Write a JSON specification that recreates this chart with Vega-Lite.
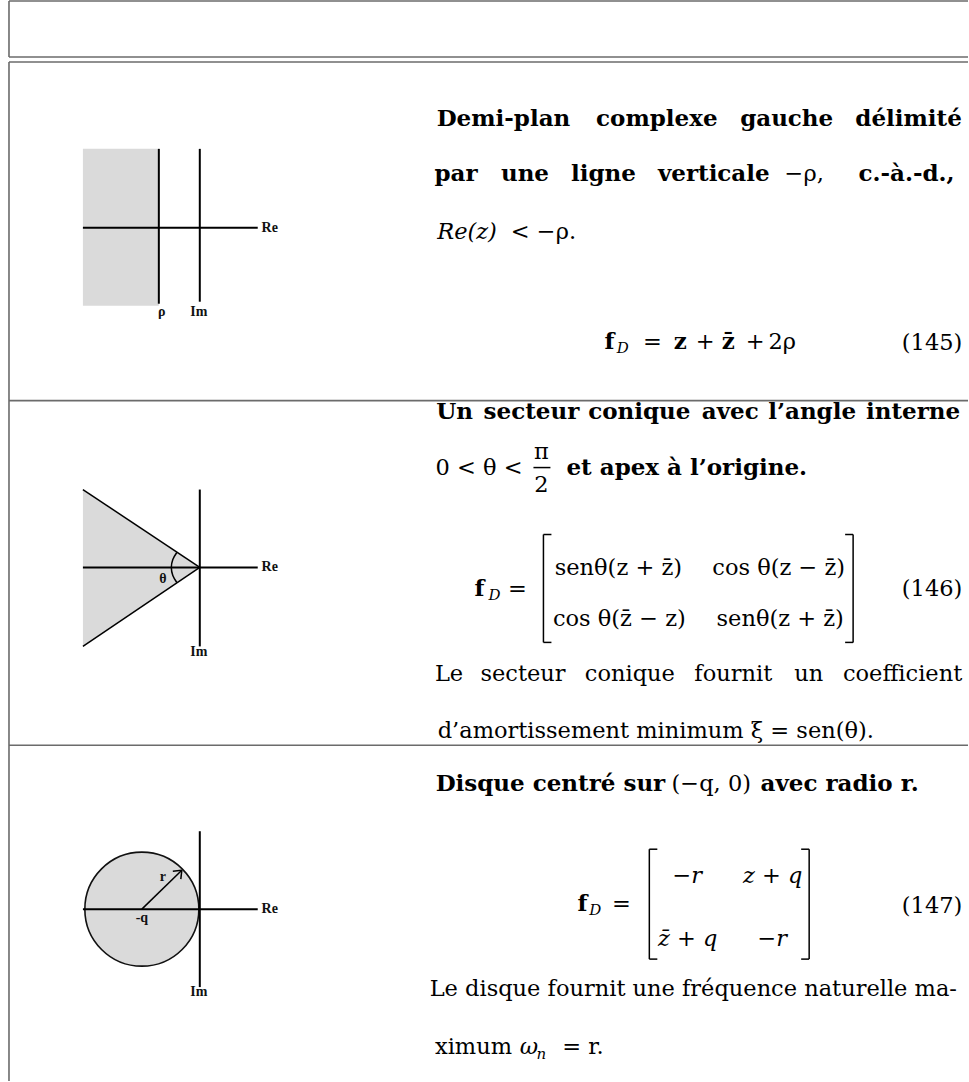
{
  "$schema": "https://vega.github.io/schema/vega-lite/v6.json",
  "width": 969,
  "height": 1082,
  "padding": 0,
  "autosize": {"type": "fit", "contains": "padding"},
  "background": "white",
  "config": {"view": {"stroke": null}},
  "datasets": {
    "table": [
      {"x": 9, "y": 1, "x2": 969, "y2": 1},
      {"x": 9, "y": 57, "x2": 969, "y2": 57},
      {"x": 9, "y": 62, "x2": 969, "y2": 62},
      {"x": 9, "y": 401, "x2": 969, "y2": 401},
      {"x": 9, "y": 746, "x2": 969, "y2": 746},
      {"x": 9, "y": 1, "x2": 9, "y2": 57},
      {"x": 9, "y": 62, "x2": 9, "y2": 1082}
    ],
    "halfplane": [{"x": 83, "x2": 159, "y": 149, "y2": 306}],
    "cone": [
      {"x": 83, "y": 490, "y2": 647},
      {"x": 200, "y": 568, "y2": 568}
    ],
    "disk": [{"x": 142, "y": 910}],
    "axes": [
      {"x": 83, "y": 228, "x2": 258, "y2": 228},
      {"x": 159, "y": 149, "x2": 159, "y2": 304},
      {"x": 200, "y": 149, "x2": 200, "y2": 302},
      {"x": 83, "y": 568, "x2": 258, "y2": 568},
      {"x": 200, "y": 490, "x2": 200, "y2": 647},
      {"x": 83, "y": 910, "x2": 258, "y2": 910},
      {"x": 200, "y": 832, "x2": 200, "y2": 988}
    ],
    "thin": [
      {"x": 83, "y": 490, "x2": 200, "y2": 568},
      {"x": 83, "y": 647, "x2": 200, "y2": 568},
      {"x": 142, "y": 910, "x2": 182, "y2": 871},
      {"x": 182, "y": 871, "x2": 173, "y2": 872},
      {"x": 182, "y": 871, "x2": 181, "y2": 880},
      {"x": 544, "y": 535, "x2": 544, "y2": 643},
      {"x": 544, "y": 535, "x2": 552, "y2": 535},
      {"x": 544, "y": 643, "x2": 552, "y2": 643},
      {"x": 854, "y": 535, "x2": 854, "y2": 643},
      {"x": 846, "y": 535, "x2": 854, "y2": 535},
      {"x": 846, "y": 643, "x2": 854, "y2": 643},
      {"x": 650, "y": 850, "x2": 650, "y2": 960},
      {"x": 650, "y": 850, "x2": 658, "y2": 850},
      {"x": 650, "y": 960, "x2": 658, "y2": 960},
      {"x": 810, "y": 850, "x2": 810, "y2": 960},
      {"x": 802, "y": 850, "x2": 810, "y2": 850},
      {"x": 802, "y": 960, "x2": 810, "y2": 960},
      {"x": 534, "y": 468, "x2": 551, "y2": 468}
    ],
    "arc": [
      {"k": 1, "x": 177, "y": 553},
      {"k": 2, "x": 173, "y": 560},
      {"k": 3, "x": 171.5, "y": 568},
      {"k": 4, "x": 173, "y": 576},
      {"k": 5, "x": 177, "y": 583}
    ],
    "labels": [
      {"x": 270, "y": 228, "t": "Re"},
      {"x": 162, "y": 312, "t": "ρ"},
      {"x": 199, "y": 312, "t": "Im"},
      {"x": 163, "y": 580, "t": "θ"},
      {"x": 270, "y": 568, "t": "Re"},
      {"x": 199, "y": 653, "t": "Im"},
      {"x": 163, "y": 878, "t": "r"},
      {"x": 142, "y": 919, "t": "-q"},
      {"x": 270, "y": 910, "t": "Re"},
      {"x": 199, "y": 993, "t": "Im"}
    ],
    "boldc": [
      {"x": 504, "y": 119, "t": "Demi-plan"},
      {"x": 657.5, "y": 119, "t": "complexe"},
      {"x": 787.5, "y": 119, "t": "gauche"},
      {"x": 909.5, "y": 119, "t": "délimité"},
      {"x": 456.5, "y": 174, "t": "par"},
      {"x": 525.5, "y": 174, "t": "une"},
      {"x": 604, "y": 174, "t": "ligne"},
      {"x": 714.5, "y": 174, "t": "verticale"},
      {"x": 907.5, "y": 174, "t": "c.-à.-d.,"},
      {"x": 610, "y": 342, "t": "f"},
      {"x": 681, "y": 342, "t": "z"},
      {"x": 729, "y": 342, "t": "z̄"},
      {"x": 455, "y": 412, "t": "Un"},
      {"x": 532, "y": 412, "t": "secteur"},
      {"x": 640, "y": 412, "t": "conique"},
      {"x": 731, "y": 412, "t": "avec"},
      {"x": 813, "y": 412, "t": "l’angle"},
      {"x": 914, "y": 412, "t": "interne"},
      {"x": 687.5, "y": 468, "t": "et apex à l’origine."},
      {"x": 480, "y": 590, "t": "f"},
      {"x": 551, "y": 785, "t": "Disque centré sur"},
      {"x": 840.5, "y": 785, "t": "avec radio r."},
      {"x": 583, "y": 905, "t": "f"}
    ],
    "regc": [
      {"x": 805, "y": 174, "t": "−ρ,"},
      {"x": 544, "y": 232, "t": "< −ρ."},
      {"x": 653, "y": 342, "t": "="},
      {"x": 706, "y": 342, "t": "+"},
      {"x": 756, "y": 342, "t": "+"},
      {"x": 783, "y": 342, "t": "2ρ"},
      {"x": 933, "y": 343, "t": "(145)"},
      {"x": 479.5, "y": 468, "t": "0 < θ <"},
      {"x": 542, "y": 452, "t": "π"},
      {"x": 542, "y": 485, "t": "2"},
      {"x": 518, "y": 590, "t": "="},
      {"x": 619, "y": 569, "t": "senθ(z + z̄)"},
      {"x": 779.5, "y": 569, "t": "cos θ(z − z̄)"},
      {"x": 620, "y": 620, "t": "cos θ(z̄ − z)"},
      {"x": 781, "y": 620, "t": "senθ(z + z̄)"},
      {"x": 933, "y": 590, "t": "(146)"},
      {"x": 449.5, "y": 675, "t": "Le"},
      {"x": 523.5, "y": 675, "t": "secteur"},
      {"x": 630.5, "y": 675, "t": "conique"},
      {"x": 734, "y": 675, "t": "fournit"},
      {"x": 809.5, "y": 675, "t": "un"},
      {"x": 903.5, "y": 675, "t": "coefficient"},
      {"x": 656.5, "y": 732, "t": "d’amortissement minimum ξ = sen(θ)."},
      {"x": 712, "y": 785, "t": "(−q, 0)"},
      {"x": 622, "y": 905, "t": "="},
      {"x": 933, "y": 907, "t": "(147)"},
      {"x": 694, "y": 990, "t": "Le disque fournit une fréquence naturelle ma-"},
      {"x": 474, "y": 1048, "t": "ximum"},
      {"x": 583.5, "y": 1048, "t": "= r."}
    ],
    "italc": [
      {"x": 467.5, "y": 232, "t": "Re(z)"},
      {"x": 688, "y": 877, "t": "−r"},
      {"x": 773.5, "y": 877, "t": "z + q"},
      {"x": 688.5, "y": 940, "t": "z̄ + q"},
      {"x": 773, "y": 940, "t": "−r"},
      {"x": 529.5, "y": 1048, "t": "ω"}
    ],
    "subc": [
      {"x": 623.5, "y": 348, "t": "D"},
      {"x": 495, "y": 596, "t": "D"},
      {"x": 596, "y": 911, "t": "D"},
      {"x": 542, "y": 1055, "t": "n"}
    ]
  },
  "encoding": {
    "x": {"field": "x", "type": "quantitative", "scale": {"domain": [0, 969], "nice": false, "zero": false}, "axis": null},
    "y": {"field": "y", "type": "quantitative", "scale": {"domain": [0, 1082], "reverse": true, "nice": false, "zero": false}, "axis": null}
  },
  "layer": [
    {
      "data": {"name": "halfplane"},
      "mark": {"type": "rect", "fill": "#dadada", "stroke": null},
      "encoding": {"x2": {"field": "x2"}, "y2": {"field": "y2"}}
    },
    {
      "data": {"name": "cone"},
      "mark": {"type": "area", "fill": "#dadada", "opacity": 1},
      "encoding": {"y2": {"field": "y2"}}
    },
    {
      "data": {"name": "disk"},
      "mark": {"type": "point", "shape": "circle", "size": 12996, "filled": false, "fill": "#dadada", "fillOpacity": 1, "stroke": "#111111", "strokeWidth": 1.6, "opacity": 1}
    },
    {
      "data": {"name": "table"},
      "mark": {"type": "rule", "color": "#6b6b6b", "strokeWidth": 1.6},
      "encoding": {"x2": {"field": "x2"}, "y2": {"field": "y2"}}
    },
    {
      "data": {"name": "axes"},
      "mark": {"type": "rule", "color": "#000000", "strokeWidth": 2},
      "encoding": {"x2": {"field": "x2"}, "y2": {"field": "y2"}}
    },
    {
      "data": {"name": "thin"},
      "mark": {"type": "rule", "color": "#000000", "strokeWidth": 1.5},
      "encoding": {"x2": {"field": "x2"}, "y2": {"field": "y2"}}
    },
    {
      "data": {"name": "arc"},
      "mark": {"type": "line", "color": "#000000", "strokeWidth": 1.5, "interpolate": "cardinal"},
      "encoding": {"order": {"field": "k", "type": "quantitative"}}
    },
    {
      "data": {"name": "labels"},
      "mark": {"type": "text", "font": "Liberation Serif", "fontWeight": "bold", "fontSize": 14, "align": "center", "baseline": "middle", "color": "#111111"},
      "encoding": {"text": {"field": "t"}}
    },
    {
      "data": {"name": "boldc"},
      "mark": {"type": "text", "font": "DejaVu Serif", "fontWeight": "bold", "fontSize": 23, "align": "center", "baseline": "middle", "color": "#000000"},
      "encoding": {"text": {"field": "t"}}
    },
    {
      "data": {"name": "regc"},
      "mark": {"type": "text", "font": "DejaVu Serif", "fontSize": 22.5, "align": "center", "baseline": "middle", "color": "#000000"},
      "encoding": {"text": {"field": "t"}}
    },
    {
      "data": {"name": "italc"},
      "mark": {"type": "text", "font": "DejaVu Serif", "fontStyle": "italic", "fontSize": 22.5, "align": "center", "baseline": "middle", "color": "#000000"},
      "encoding": {"text": {"field": "t"}}
    },
    {
      "data": {"name": "subc"},
      "mark": {"type": "text", "font": "DejaVu Serif", "fontStyle": "italic", "fontSize": 15, "align": "center", "baseline": "middle", "color": "#000000"},
      "encoding": {"text": {"field": "t"}}
    }
  ]
}
